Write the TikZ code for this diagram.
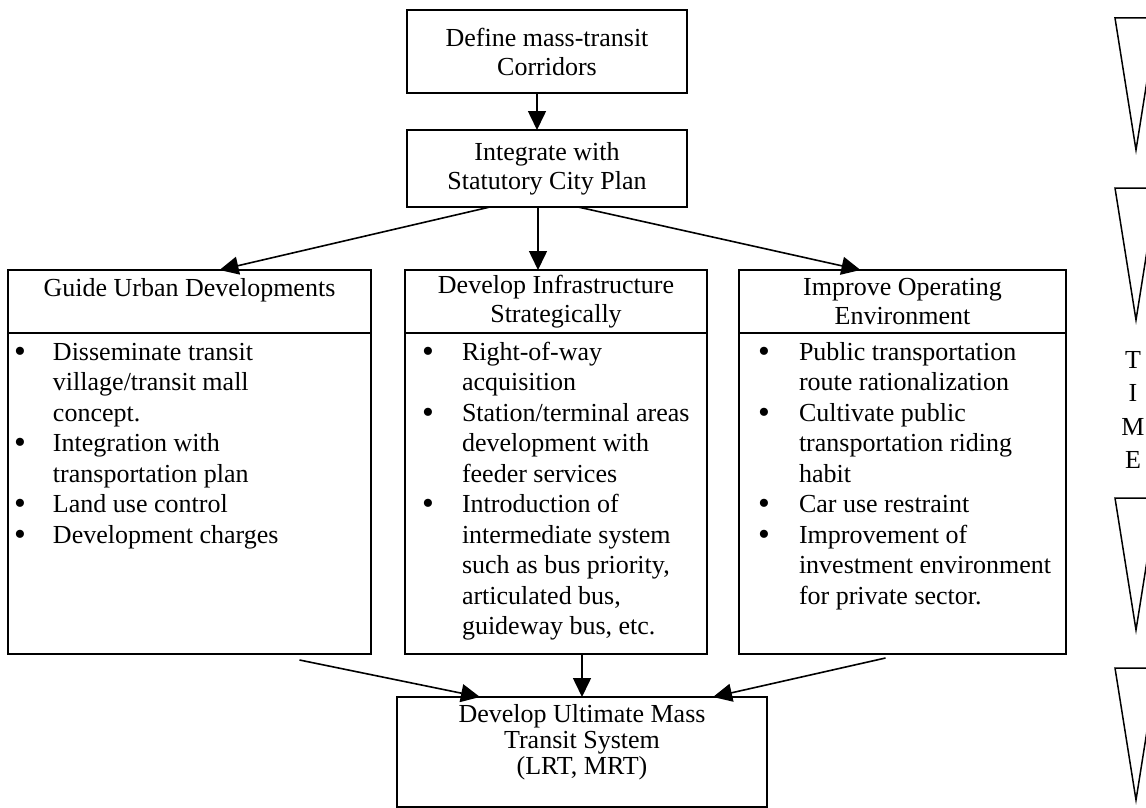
\documentclass[tikz,border=0pt]{standalone}
\usepackage{fontspec}
\setmainfont{Liberation Serif}
\usetikzlibrary{arrows.meta,calc,positioning}

\newcommand{\bul}{\raisebox{-2pt}{\scalebox{1.3}{\textbullet}}}

\begin{document}
\begin{tikzpicture}[x=1pt,y=-1pt,
    box/.style={draw,line width=1.6pt,inner sep=0pt,outer sep=0pt,align=center,font=\fontsize{26}{29}\selectfont},
    listtext/.style={inner sep=0pt,outer sep=0pt,anchor=north west,font=\fontsize{26}{30.5}\selectfont},
    flow/.style={line width=1.6pt,-{Triangle[length=19pt,width=18pt]}},
    timemark/.style={line width=1.5pt,line join=miter}]
        \useasboundingbox (0,0) rectangle (1146,808);

        %top boxes
        \node[box,minimum width=280pt,minimum height=83pt] (corridors) at (547,51.5) {Define mass-transit\\Corridors};
        \node[box,minimum width=280pt,minimum height=77pt] (cityplan) at (547,168.5) {Integrate with\\Statutory City Plan};

        %column heads
        \node[box,minimum width=363pt,minimum height=63pt] (guide) at (189.5,301.5) {Guide Urban Developments\\~};
        \node[box,minimum width=302pt,minimum height=63pt] (infra) at (556,301.5) {Develop Infrastructure\\Strategically};
        \node[box,minimum width=327pt,minimum height=63pt] (envir) at (902.5,301.5) {Improve Operating\\Environment};

        %column bodies
        \node[box,minimum width=363pt,minimum height=321pt,below=0pt of guide] (guidebody) {};
        \node[box,minimum width=302pt,minimum height=321pt,below=0pt of infra] (infrabody) {};
        \node[box,minimum width=327pt,minimum height=321pt,below=0pt of envir] (envirbody) {};

        %lists
        \node[listtext] (guidelist) at ($(guidebody.north west)+(6,6)$) {\begin{tabular}{@{}p{39pt}@{}l@{}}
            \bul & Disseminate transit\\
                 & village/transit mall\\
                 & concept.\\
            \bul & Integration with\\
                 & transportation plan\\
            \bul & Land use control\\
            \bul & Development charges
        \end{tabular}};
        \node[listtext] (infralist) at ($(infrabody.north west)+(17,6)$) {\begin{tabular}{@{}p{40pt}@{}l@{}}
            \bul & Right-of-way\\
                 & acquisition\\
            \bul & Station/terminal areas\\
                 & development with\\
                 & feeder services\\
            \bul & Introduction of\\
                 & intermediate system\\
                 & such as bus priority,\\
                 & articulated bus,\\
                 & guideway bus, etc.
        \end{tabular}};
        \node[listtext] (envirlist) at ($(envirbody.north west)+(19,6)$) {\begin{tabular}{@{}p{41pt}@{}l@{}}
            \bul & Public transportation\\
                 & route rationalization\\
            \bul & Cultivate public\\
                 & transportation riding\\
                 & habit\\
            \bul & Car use restraint\\
            \bul & Improvement of\\
                 & investment environment\\
                 & for private sector.
        \end{tabular}};

        %bottom box
        \node[box,minimum width=370pt,minimum height=110pt,anchor=north,text depth=26pt,font=\fontsize{26}{26}\selectfont] (ultimate) at (582,697) {Develop Ultimate Mass\\Transit System\\(LRT, MRT)};

        %arrows
        \draw[flow] ($(corridors.south)+(-10,0)$) -- ($(cityplan.north)+(-10,0)$);
        \draw[flow] ($(cityplan.south)+(-57,0)$) -- ($(guide.north)+(30,0)$);
        \draw[flow] ($(cityplan.south)+(-9,0)$) -- ($(infra.north)+(-18,0)$);
        \draw[flow] ($(cityplan.south)+(31,0)$) -- ($(envir.north)+(-42,0)$);

        \draw[flow] ($(guidebody.south)+(110,6)$) -- ($(ultimate.north)+(-102,0)$);
        \draw[flow] (ultimate.north |- infrabody.south) -- (ultimate.north);
        \draw[flow] ($(envirbody.south)+(-17,4)$) -- ($(ultimate.north)+(131,0)$);

        %time
        \foreach \top/\tip in {18/150,188/320,498/630,668/800}
            \draw[timemark] (1115,\top) -- (1157,\top) -- (1136,\tip) -- cycle;
        \node[inner sep=0pt,align=center,font=\fontsize{26}{33.3}\selectfont] (timeword) at (1133,410) {T\\I\\M\\E};
\end{tikzpicture}
\end{document}
